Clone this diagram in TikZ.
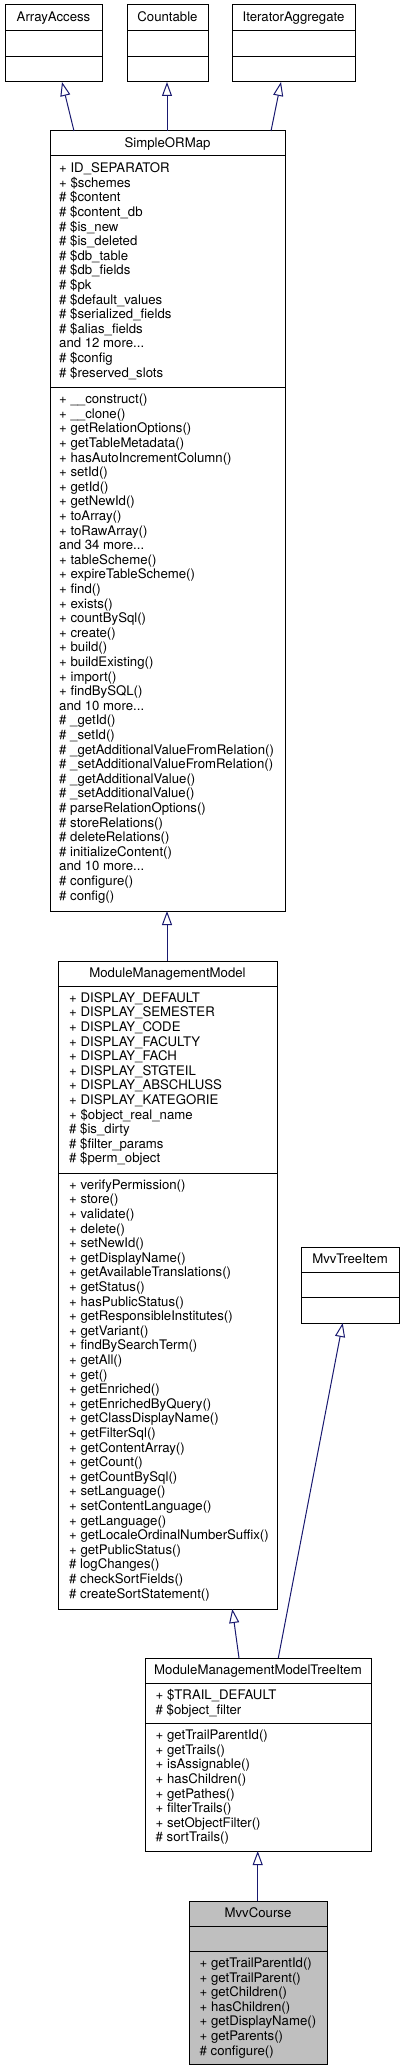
\documentclass[tikz,border=0pt]{standalone}
\usepackage{fontspec}
\setmainfont{TeX Gyre Heros}
\usetikzlibrary{arrows.meta,calc}
\definecolor{edgeblue}{HTML}{191970}
\definecolor{hlgray}{HTML}{BFBFBF}
\newcommand\umlfnt{\fontsize{13.2}{14.6}\selectfont}
\newcommand\umllines[1]{\begin{tabular}[t]{@{}l@{}}#1\end{tabular}}
\tikzset{
  box/.style={draw=black, line width=1pt, fill=white, rectangle, inner sep=0pt, outer sep=0pt, anchor=north west},
  hl/.style={fill=hlgray},
  rule/.style={draw=black, line width=1pt},
  ttl/.style={inner sep=0pt, anchor=base},
  lst/.style={inner sep=0pt, anchor=base west},
  inh/.style={draw=edgeblue, line width=1pt, -{Triangle[open, length=14pt, width=10pt, fill=white]}},
}
\begin{document}
\begin{tikzpicture}[x=1pt,y=-1pt,font=\umlfnt]
\useasboundingbox (0,0) rectangle (405,2071);

% ---------- ArrayAccess
\node[box, minimum width=97pt, minimum height=77pt] (aa) at (5,5) {};
\draw[rule] ([yshift=-26pt]aa.north west) -- ([yshift=-26pt]aa.north east);
\draw[rule] ([yshift=-52pt]aa.north west) -- ([yshift=-52pt]aa.north east);
\node[ttl] (aa-t) at ([yshift=-17pt]aa.north) {ArrayAccess};

% ---------- Countable
\node[box, minimum width=81pt, minimum height=77pt] (ct) at (127,5) {};
\draw[rule] ([yshift=-26pt]ct.north west) -- ([yshift=-26pt]ct.north east);
\draw[rule] ([yshift=-52pt]ct.north west) -- ([yshift=-52pt]ct.north east);
\node[ttl] (ct-t) at ([yshift=-17pt]ct.north) {Countable};

% ---------- IteratorAggregate
\node[box, minimum width=123pt, minimum height=77pt] (ia) at (232,5) {};
\draw[rule] ([yshift=-26pt]ia.north west) -- ([yshift=-26pt]ia.north east);
\draw[rule] ([yshift=-52pt]ia.north west) -- ([yshift=-52pt]ia.north east);
\node[ttl] (ia-t) at ([yshift=-17pt]ia.north) {IteratorAggregate};

% ---------- SimpleORMap
\node[box, minimum width=235pt, minimum height=780pt] (sorm) at (50,131) {};
\draw[rule] ([yshift=-25pt]sorm.north west) -- ([yshift=-25pt]sorm.north east);
\draw[rule] ([yshift=-256pt]sorm.north west) -- ([yshift=-256pt]sorm.north east);
\node[ttl] (sorm-t) at ([yshift=-16.8pt]sorm.north) {SimpleORMap};
\node[lst] (sorm-a) at ([xshift=9pt,yshift=-41.8pt]sorm.north west) {\umllines{%
+ ID\_SEPARATOR\\
+ \$schemes\\
\# \$content\\
\# \$content\_db\\
\# \$is\_new\\
\# \$is\_deleted\\
\# \$db\_table\\
\# \$db\_fields\\
\# \$pk\\
\# \$default\_values\\
\# \$serialized\_fields\\
\# \$alias\_fields\\
and 12 more...\\
\# \$config\\
\# \$reserved\_slots}};
\node[lst] (sorm-m) at ([xshift=9pt,yshift=-272.6pt]sorm.north west) {\umllines{%
+ \_\_construct()\\
+ \_\_clone()\\
+ getRelationOptions()\\
+ getTableMetadata()\\
+ hasAutoIncrementColumn()\\
+ setId()\\
+ getId()\\
+ getNewId()\\
+ toArray()\\
+ toRawArray()\\
and 34 more...\\
+ tableScheme()\\
+ expireTableScheme()\\
+ find()\\
+ exists()\\
+ countBySql()\\
+ create()\\
+ build()\\
+ buildExisting()\\
+ import()\\
+ findBySQL()\\
and 10 more...\\
\# \_getId()\\
\# \_setId()\\
\# \_getAdditionalValueFromRelation()\\
\# \_setAdditionalValueFromRelation()\\
\# \_getAdditionalValue()\\
\# \_setAdditionalValue()\\
\# parseRelationOptions()\\
\# storeRelations()\\
\# deleteRelations()\\
\# initializeContent()\\
and 10 more...\\
\# configure()\\
\# config()}};

% ---------- ModuleManagementModel
\node[box, minimum width=219pt, minimum height=648pt] (mmm) at (58,961) {};
\draw[rule] ([yshift=-25pt]mmm.north west) -- ([yshift=-25pt]mmm.north east);
\draw[rule] ([yshift=-212pt]mmm.north west) -- ([yshift=-212pt]mmm.north east);
\node[ttl] (mmm-t) at ([yshift=-16.6pt]mmm.north) {ModuleManagementModel};
\node[lst] (mmm-a) at ([xshift=11pt,yshift=-41.3pt]mmm.north west) {\umllines{%
+ DISPLAY\_DEFAULT\\
+ DISPLAY\_SEMESTER\\
+ DISPLAY\_CODE\\
+ DISPLAY\_FACULTY\\
+ DISPLAY\_FACH\\
+ DISPLAY\_STGTEIL\\
+ DISPLAY\_ABSCHLUSS\\
+ DISPLAY\_KATEGORIE\\
+ \$object\_real\_name\\
\# \$is\_dirty\\
\# \$filter\_params\\
\# \$perm\_object}};
\node[lst] (mmm-m) at ([xshift=11pt,yshift=-228.2pt]mmm.north west) {\umllines{%
+ verifyPermission()\\
+ store()\\
+ validate()\\
+ delete()\\
+ setNewId()\\
+ getDisplayName()\\
+ getAvailableTranslations()\\
+ getStatus()\\
+ hasPublicStatus()\\
+ getResponsibleInstitutes()\\
+ getVariant()\\
+ findBySearchTerm()\\
+ getAll()\\
+ get()\\
+ getEnriched()\\
+ getEnrichedByQuery()\\
+ getClassDisplayName()\\
+ getFilterSql()\\
+ getContentArray()\\
+ getCount()\\
+ getCountBySql()\\
+ setLanguage()\\
+ setContentLanguage()\\
+ getLanguage()\\
+ getLocaleOrdinalNumberSuffix()\\
+ getPublicStatus()\\
\# logChanges()\\
\# checkSortFields()\\
\# createSortStatement()}};

% ---------- MvvTreeItem
\node[box, minimum width=98pt, minimum height=76pt] (mti) at (301,1247) {};
\draw[rule] ([yshift=-25pt]mti.north west) -- ([yshift=-25pt]mti.north east);
\draw[rule] ([yshift=-50pt]mti.north west) -- ([yshift=-50pt]mti.north east);
\node[ttl] (mti-t) at ([yshift=-16.2pt]mti.north) {MvvTreeItem};

% ---------- ModuleManagementModelTreeItem
\node[box, minimum width=226pt, minimum height=193pt] (mmti) at (145,1658) {};
\draw[rule] ([yshift=-25pt]mmti.north west) -- ([yshift=-25pt]mmti.north east);
\draw[rule] ([yshift=-65.5pt]mmti.north west) -- ([yshift=-65.5pt]mmti.north east);
\node[ttl] (mmti-t) at ([yshift=-16.2pt]mmti.north) {ModuleManagementModelTreeItem};
\node[lst] (mmti-a) at ([xshift=10.5pt,yshift=-41.4pt]mmti.north west) {\umllines{%
+ \$TRAIL\_DEFAULT\\
\# \$object\_filter}};
\node[lst] (mmti-m) at ([xshift=10.5pt,yshift=-81.6pt]mmti.north west) {\umllines{%
+ getTrailParentId()\\
+ getTrails()\\
+ isAssignable()\\
+ hasChildren()\\
+ getPathes()\\
+ filterTrails()\\
+ setObjectFilter()\\
\# sortTrails()}};

% ---------- MvvCourse
\node[box, hl, minimum width=138pt, minimum height=163pt] (mc) at (189,1901) {};
\draw[rule] ([yshift=-25pt]mc.north west) -- ([yshift=-25pt]mc.north east);
\draw[rule] ([yshift=-50pt]mc.north west) -- ([yshift=-50pt]mc.north east);
\node[ttl] (mc-t) at ([yshift=-16pt]mc.north) {MvvCourse};
\node[lst] (mc-m) at ([xshift=10.5pt,yshift=-66.5pt]mc.north west) {\umllines{%
+ getTrailParentId()\\
+ getTrailParent()\\
+ getChildren()\\
+ hasChildren()\\
+ getDisplayName()\\
+ getParents()\\
\# configure()}};

% ---------- inheritance edges
\draw[inh] ([xshift=24pt]sorm.north west) -- ([xshift=57pt]aa.south west);
\draw[inh] ([xshift=117pt]sorm.north west) -- ([xshift=40pt]ct.south west);
\draw[inh] ([xshift=221pt]sorm.north west) -- ([xshift=49pt]ia.south west);
\draw[inh] ([xshift=109pt]mmm.north west) -- ([xshift=117pt]sorm.south west);
\draw[inh] ([xshift=94pt]mmti.north west) -- ([xshift=174.3pt]mmm.south west);
\draw[inh] ([xshift=133.3pt]mmti.north west) -- ([xshift=41.7pt]mti.south west);
\draw[inh] ([xshift=68.7pt]mc.north west) -- ([xshift=112.7pt]mmti.south west);
\end{tikzpicture}
\end{document}
